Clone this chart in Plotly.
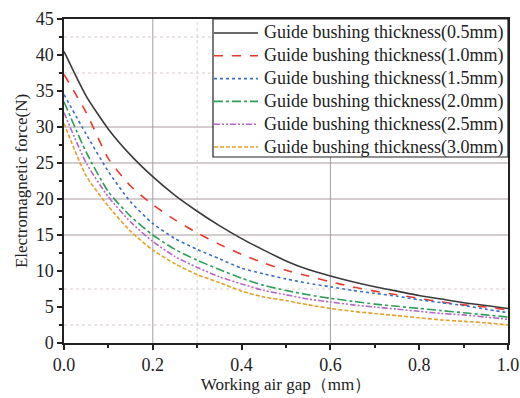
import plotly.graph_objects as go

# Working air gap (mm)
air_gap = [0.00, 0.05, 0.10, 0.15, 0.20, 0.25, 0.30, 0.35, 0.40, 0.45, 0.50,
           0.55, 0.60, 0.65, 0.70, 0.75, 0.80, 0.85, 0.90, 0.95, 1.00]

# Electromagnetic force (N) for each guide bushing thickness
force_05 = [40.5, 34.3, 29.7, 26.1, 23.1, 20.5, 18.3, 16.3, 14.5, 12.9, 11.4,
            10.2, 9.3, 8.5, 7.8, 7.2, 6.6, 6.1, 5.6, 5.2, 4.8]
force_10 = [37.3, 32.0, 25.6, 21.8, 19.2, 17.1, 15.3, 13.7, 12.3, 11.1, 10.1,
            9.3, 8.5, 7.8, 7.2, 6.7, 6.2, 5.7, 5.3, 5.0, 4.6]
force_15 = [34.5, 29.0, 23.8, 19.6, 16.6, 14.5, 13.0, 11.7, 10.4, 9.6, 8.9,
            8.3, 7.8, 7.3, 6.9, 6.5, 6.0, 5.6, 5.2, 4.7, 4.2]
force_20 = [33.5, 26.5, 21.0, 17.6, 15.0, 13.0, 11.5, 10.2, 9.0, 8.0, 7.3,
            6.7, 6.2, 5.8, 5.4, 5.1, 4.8, 4.5, 4.2, 3.9, 3.6]
force_25 = [32.0, 25.0, 20.3, 16.8, 14.1, 12.0, 10.5, 9.2, 8.2, 7.3, 6.7,
            6.1, 5.7, 5.3, 5.0, 4.7, 4.4, 4.1, 3.9, 3.6, 3.3]
force_30 = [30.5, 23.2, 19.0, 15.5, 12.9, 11.0, 9.5, 8.4, 7.2, 6.4, 5.9,
            5.3, 4.8, 4.4, 4.1, 3.8, 3.5, 3.2, 3.0, 2.8, 2.5]

series_names = [
    "Guide bushing thickness(0.5mm)",
    "Guide bushing thickness(1.0mm)",
    "Guide bushing thickness(1.5mm)",
    "Guide bushing thickness(2.0mm)",
    "Guide bushing thickness(2.5mm)",
    "Guide bushing thickness(3.0mm)",
]
series_values = [force_05, force_10, force_15, force_20, force_25, force_30]
series_colors = ["#3a3a3a", "#e8392f", "#3b6fc6", "#2f9e57", "#b667c9", "#e3a02a"]
series_dashes = ["solid", "dash", "dot", "dashdot",
                 "6px,2px,2px,2px,2px,2px", "4px,2px"]

x_ticks = [0.0, 0.2, 0.4, 0.6, 0.8, 1.0]
x_tick_labels = ["0.0", "0.2", "0.4", "0.6", "0.8", "1.0"]
y_ticks = [0, 5, 10, 15, 20, 25, 30, 35, 40, 45]

# Background grid
solid_grid_y = [15, 20, 25, 30]
dotted_grid_y = [2.5, 7.5, 37.5, 42.5]
solid_grid_x = [0.2, 0.6]
dotted_grid_x = [0.3]

FONT = "Liberation Serif"

# Plot-area geometry in pixels (used to lay out the boxed key)
W, H = 520, 398
ML, MR, MT, MB = 64, 12, 19, 55
PW, PH = W - ML - MR, H - MT - MB


def px_x(p):
    return (p - ML) / PW


def px_y(p):
    return (H - MB - p) / PH


fig = go.Figure()
for name, vals, col, dash in zip(series_names, series_values, series_colors, series_dashes):
    fig.add_trace(go.Scatter(
        x=air_gap, y=vals, mode="lines", name=name, showlegend=False,
        line=dict(color=col, width=1.6, dash=dash, shape="spline", smoothing=0.6),
    ))

shapes = []
for v in solid_grid_y:
    shapes.append(dict(type="line", xref="paper", yref="y", x0=0, x1=1, y0=v, y1=v,
                       line=dict(color="#a89c9c", width=1), layer="below"))
for v in dotted_grid_y:
    shapes.append(dict(type="line", xref="paper", yref="y", x0=0, x1=1, y0=v, y1=v,
                       line=dict(color="#dccccc", width=1, dash="dot"), layer="below"))
for v in solid_grid_x:
    shapes.append(dict(type="line", xref="x", yref="paper", x0=v, x1=v, y0=0, y1=1,
                       line=dict(color="#a0a0a0", width=1), layer="below"))
for v in dotted_grid_x:
    shapes.append(dict(type="line", xref="x", yref="paper", x0=v, x1=v, y0=0, y1=1,
                       line=dict(color="#d6d0d0", width=1, dash="dot"), layer="below"))

# Boxed key in the upper-right corner
key_left, key_top, key_bottom = 213, 18, 157
row_first, row_step = 33, 22.8
shapes.append(dict(type="rect", xref="paper", yref="paper",
                   x0=px_x(key_left), x1=1.0, y0=px_y(key_bottom), y1=1.0,
                   fillcolor="white", line=dict(color="#222", width=1.2), layer="above"))
annotations = []
for i, (name, col, dash) in enumerate(zip(series_names, series_colors, series_dashes)):
    yc = px_y(row_first + i * row_step)
    shapes.append(dict(type="line", xref="paper", yref="paper",
                       x0=px_x(key_left + 1), x1=px_x(key_left + 45), y0=yc, y1=yc,
                       line=dict(color=col, width=1.6, dash=dash), layer="above"))
    annotations.append(dict(xref="paper", yref="paper", x=px_x(key_left + 49), y=yc,
                            text=name, showarrow=False, xanchor="left", yanchor="middle",
                            font=dict(family=FONT, size=18, color="#222")))

fig.update_layout(
    width=W, height=H,
    margin=dict(l=ML, r=MR, t=MT, b=MB),
    paper_bgcolor="white", plot_bgcolor="white",
    font=dict(family=FONT, size=18, color="#222"),
    shapes=shapes,
    annotations=annotations,
    showlegend=False,
    xaxis=dict(
        range=[0, 1], tickvals=x_ticks, ticktext=x_tick_labels,
        showgrid=False, zeroline=False, automargin=False,
        showline=True, linecolor="#222", linewidth=1.5, mirror=True,
        ticks="outside", ticklen=5, tickwidth=1.5, tickcolor="#222",
        minor=dict(dtick=0.1, ticks="outside", ticklen=3, tickcolor="#222", showgrid=False),
        title=dict(text="Working air gap（mm）", standoff=0,
                   font=dict(family=FONT, size=17)),
        tickfont=dict(family=FONT, size=18),
    ),
    yaxis=dict(
        range=[0, 45], tickvals=y_ticks,
        showgrid=False, zeroline=False, automargin=False,
        showline=True, linecolor="#222", linewidth=1.5, mirror=True,
        ticks="outside", ticklen=5, tickwidth=1.5, tickcolor="#222",
        minor=dict(dtick=2.5, ticks="outside", ticklen=3, tickcolor="#222", showgrid=False),
        title=dict(text="Electromagnetic force(N)", standoff=4,
                   font=dict(family=FONT, size=17)),
        tickfont=dict(family=FONT, size=18),
    ),
)

fig.write_html("out.html")
